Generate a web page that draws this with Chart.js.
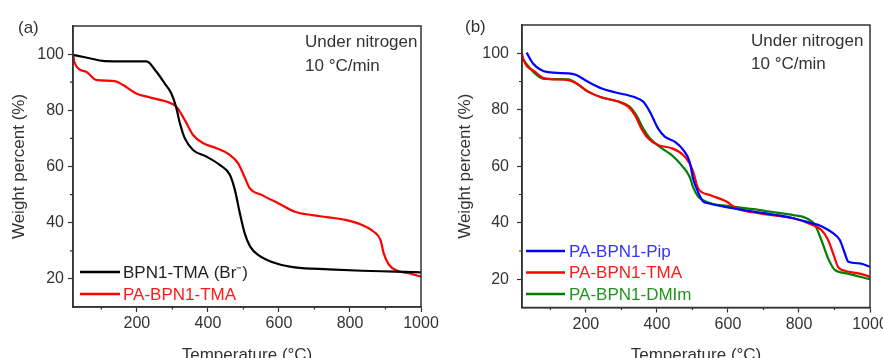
<!DOCTYPE html>
<html><head><meta charset="utf-8">
<script src="https://cdn.jsdelivr.net/npm/chart.js@4/dist/chart.umd.min.js"></script>
<style>
html,body{margin:0;padding:0;background:#fff;overflow:hidden;width:883px;height:358px;position:relative;}
.wrap{position:absolute;top:0;width:470px;height:366px;}
canvas{display:block;}
</style></head><body>
<div class="wrap" style="left:0"><canvas id="ca" width="470" height="366"></canvas></div>
<div class="wrap" style="left:443px"><canvas id="cb" width="470" height="366"></canvas></div>
<script>
// ---------- Panel (a) data ----------
const tempA_BPN1TMA = [21, 60, 109, 170, 227, 255, 278, 297, 310, 321, 335, 358, 396, 434, 462, 476, 490, 504, 519, 542, 598, 645, 740, 834, 928, 1000];
const wtA_BPN1TMA   = [99.7, 98.7, 97.5, 97.4, 97.4, 93.7, 89.6, 86, 81.3, 75.4, 70, 65.9, 63.5, 60.5, 57, 51.6, 43.3, 36, 31.5, 28.5, 25.3, 24.1, 23.4, 22.9, 22.6, 22.3];
const tempA_PATMA = [21, 23, 57, 85, 137, 161, 198, 236, 283, 311, 335, 358, 387, 424, 462, 485, 504, 518, 551, 598, 645, 693, 740, 787, 834, 867, 886, 895, 909, 933, 966, 1000];
const wtA_PATMA   = [100, 97.3, 93.7, 90.8, 90.4, 89, 86, 84.6, 83.1, 81.3, 76.5, 71.2, 68.3, 66.5, 64.1, 61.1, 56, 52.2, 49.9, 46.9, 43.9, 42.7, 41.9, 41, 39.2, 36.8, 33.8, 29.1, 25.2, 22.9, 22, 20.8];

// ---------- Panel (b) data ----------
const tempB_Pip = [33, 51, 93, 150, 173, 206, 243, 281, 338, 361, 380, 403, 422, 450, 474, 492, 502, 512, 521, 530, 544, 596, 643, 690, 737, 784, 831, 863, 896, 915, 929, 939, 971, 1000];
const wtB_Pip   = [100.2, 96.4, 93.3, 92.9, 92.3, 89.9, 87.6, 86.2, 84.4, 82.9, 79.3, 73.4, 70.5, 68.7, 65.8, 61.6, 55.5, 52, 49.5, 47.5, 46.9, 45.5, 44.5, 43.6, 42.7, 41.6, 40, 38.8, 36.3, 33.9, 29.2, 26.2, 25.6, 24.4];
const tempB_TMA = [20, 23, 56, 84, 150, 173, 206, 243, 291, 319, 338, 356, 375, 403, 441, 474, 492, 502, 516, 549, 596, 624, 690, 737, 784, 831, 863, 882, 896, 910, 929, 971, 1000];
const wtB_TMA   = [100, 98.2, 93.5, 91.1, 90.5, 89.4, 86.4, 84.4, 82.9, 81.1, 78.1, 73.4, 69.9, 67.5, 66.4, 64, 61, 58.1, 52.2, 49.8, 47.5, 45.1, 43.3, 42.5, 41.6, 39.6, 37.4, 33.9, 29.2, 24.4, 23, 22, 20.9];
const tempB_DMIm = [20, 56, 84, 150, 173, 206, 243, 291, 323, 342, 361, 380, 413, 441, 469, 492, 502, 516, 530, 558, 596, 690, 737, 784, 821, 845, 863, 882, 901, 934, 1000];
const wtB_DMIm   = [98.2, 92.9, 90.9, 90.8, 89.4, 86.4, 84.4, 82.9, 81.1, 78.1, 73.4, 69.9, 66.4, 64, 60.4, 56.3, 52.5, 49.3, 48, 46.6, 46, 44.5, 43.6, 42.7, 41.6, 39.2, 33.9, 27.4, 23.3, 22.1, 20];

// ---------- Axis ticks / labels ----------
const xMajorTicks = [200, 400, 600, 800, 1000];
const xMinorTicks = [100, 300, 500, 700, 900];
const yMajorTicks = [20, 40, 60, 80, 100];
const yMinorTicks = [30, 50, 70, 90];
const xTitle = 'Temperature (°C)';
const yTitle = 'Weight percent (%)';
const noteLines = ['Under nitrogen', '10 °C/min'];

const FAM = '"Liberation Sans", Arial, sans-serif';
const AX = '#333333';

function pts(t, w) { return t.map((x, i) => ({ x: x, y: w[i] })); }

const decor = {
  id: 'decor',
  afterDraw(chart, args, o) {
    const ctx = chart.ctx, ca = chart.chartArea;
    const sx = chart.scales.x, sy = chart.scales.y;
    ctx.save();
    // minor ticks
    ctx.strokeStyle = AX; ctx.lineWidth = 1.2;
    ctx.beginPath();
    xMinorTicks.forEach(v => { const p = sx.getPixelForValue(v); ctx.moveTo(p, ca.bottom); ctx.lineTo(p, ca.bottom + 2.5); });
    yMinorTicks.forEach(v => { const p = sy.getPixelForValue(v); ctx.moveTo(ca.left, p); ctx.lineTo(ca.left - 3, p); });
    ctx.stroke();
    // frame
    ctx.lineWidth = 1.5;
    ctx.strokeRect(ca.left, ca.top, ca.right - ca.left, ca.bottom - ca.top);
    // texts
    ctx.fillStyle = AX;
    ctx.font = '17px ' + FAM;
    ctx.textAlign = 'left'; ctx.textBaseline = 'alphabetic';
    ctx.fillText(o.panel, o.panelX, o.panelY);
    ctx.fillText(noteLines[0], ca.left + o.noteDX, o.noteY1);
    ctx.fillText(noteLines[1], ca.left + o.noteDX, o.noteY2);
    // legend
    const ds = chart.data.datasets;
    ctx.textBaseline = 'middle';
    ds.forEach((d, i) => {
      const y = ca.bottom - o.legBottom - (ds.length - 1 - i) * o.legGap;
      ctx.strokeStyle = d.borderColor; ctx.lineWidth = 2.5;
      ctx.beginPath();
      ctx.moveTo(ca.left + o.legX, y);
      ctx.lineTo(ca.left + o.legX + o.legLen, y);
      ctx.stroke();
      ctx.fillStyle = d.textColor || d.borderColor;
      ctx.fillText(d.label, ca.left + o.legX + o.legLen + o.legTextGap, y + 1);
    });
    ctx.restore();
  }
};

function scales(yw, xh, yTitlePad, yTickPad) {
  return {
    x: {
      type: 'linear', min: 20, max: 1000,
      afterBuildTicks(s) { s.ticks = xMajorTicks.map(v => ({ value: v })); },
      afterFit(s) { s.height = xh; },
      ticks: { autoSkip: false, maxRotation: 0, padding: 2, color: AX, font: { family: FAM, size: 16 },
        callback: v => String(v) },
      grid: { drawOnChartArea: false, tickLength: 5, color: AX, tickWidth: 1.2 },
      border: { display: true, color: AX, width: 1.5 },
      title: { display: true, text: xTitle, color: AX, font: { family: FAM, size: 17 }, padding: { top: 11, bottom: 0 } }
    },
    y: {
      type: 'linear', min: 10, max: 110,
      afterBuildTicks(s) { s.ticks = yMajorTicks.map(v => ({ value: v })); },
      afterFit(s) { s.width = yw; },
      ticks: { autoSkip: false, padding: yTickPad, color: AX, font: { family: FAM, size: 16 },
        callback: v => String(v) },
      grid: { drawOnChartArea: false, tickLength: 5, color: AX, tickWidth: 1.2 },
      border: { display: true, color: AX, width: 1.5 },
      title: { display: true, text: yTitle, color: AX, font: { family: FAM, size: 17 }, padding: { top: yTitlePad, bottom: 0 } }
    }
  };
}

function ds(label, t, w, color, textColor) {
  return { label: label, data: pts(t, w), borderColor: color, textColor: textColor, borderWidth: 2.2,
    pointRadius: 0, fill: false, cubicInterpolationMode: 'monotone' };
}

new Chart(document.getElementById('ca'), {
  type: 'line',
  data: { datasets: [
    ds('BPN1-TMA (Br\u207B)', tempA_BPN1TMA, wtA_BPN1TMA, '#000000', '#222222'),
    ds('PA-BPN1-TMA', tempA_PATMA, wtA_PATMA, '#ff0000', '#ff1a1a')
  ] },
  options: {
    responsive: false, animation: false, devicePixelRatio: 1,
    layout: { padding: { left: 0, top: 26, right: 49, bottom: 0 } },
    scales: scales(73, 59, 9, 4),
    plugins: { legend: { display: false }, tooltip: { enabled: false },
      decor: { panel: '(a)', panelX: 18, panelY: 33, noteDX: 232, noteY1: 46.5, noteY2: 70.5,
        legX: 7, legLen: 40, legTextGap: 3, legBottom: 13, legGap: 22 } }
  },
  plugins: [decor]
});

new Chart(document.getElementById('cb'), {
  type: 'line',
  data: { datasets: [
    ds('PA-BPN1-Pip', tempB_Pip, wtB_Pip, '#0000ff', '#3333ff'),
    ds('PA-BPN1-TMA', tempB_TMA, wtB_TMA, '#ff0000', '#ff1a1a'),
    ds('PA-BPN1-DMIm', tempB_DMIm, wtB_DMIm, '#008000', '#1f951f')
  ] },
  options: {
    responsive: false, animation: false, devicePixelRatio: 1,
    layout: { padding: { left: 0, top: 25, right: 43, bottom: 0 } },
    scales: scales(79, 58.5, 12, 8),
    plugins: { legend: { display: false }, tooltip: { enabled: false },
      decor: { panel: '(b)', panelX: 22, panelY: 32, noteDX: 229, noteY1: 45.5, noteY2: 68.5,
        legX: 4, legLen: 39, legTextGap: 4, legBottom: 13.5, legGap: 21.5 } }
  },
  plugins: [decor]
});
</script>
</body></html>
